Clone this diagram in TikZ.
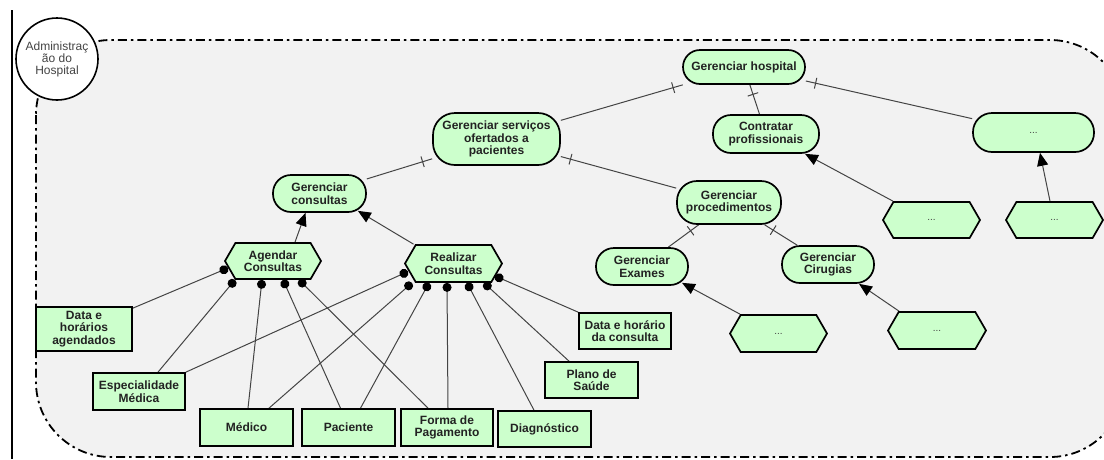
\documentclass[tikz,border=0pt]{standalone}
\usepackage{fontspec}
\setmainfont{Liberation Sans}
\usetikzlibrary{arrows.meta,shapes.symbols,decorations.markings}
\definecolor{nodefill}{HTML}{CCFFCC}
\definecolor{bgfill}{HTML}{F2F2F2}
\definecolor{linec}{HTML}{444444}
\definecolor{txt}{HTML}{222222}
\definecolor{graytxt}{HTML}{444444}
\pgfdeclarelayer{bg}
\pgfdeclarelayer{conn}
\pgfsetlayers{bg,conn,main}
\tikzset{
  base/.style={draw=black, line width=1.7pt, fill=nodefill, text=txt, inner sep=0pt,
    align=center, font=\bfseries\fontsize{12}{12.5}\selectfont},
  pill/.style={base, rectangle, rounded corners=#1},
  box/.style={base, rectangle},
  hexa/.style={base, signal, signal to=east and west, signal pointer angle=120},
  sz/.style 2 args={minimum width=#1pt, minimum height=#2pt},
  decomp/.style={draw=linec, line width=1pt, postaction={decorate},
    decoration={markings, mark=at position 10pt with {\draw[linec, line width=1pt] (0pt,-5.5pt) -- (0pt,5.5pt);}}},
  isa/.style={draw=linec, line width=1pt, -{Triangle[length=13pt,width=11pt,color=black]}},
  attr/.style={draw=linec, line width=1pt, -{Circle[length=9pt,width=9pt,color=black]}},
  container/.style={fill=bgfill, draw=black, line width=1.8pt,
    dash pattern=on 9pt off 4pt on 2.5pt off 4pt, rounded corners=75pt},
}
\newcommand\elide{{\mdseries\fontsize{10}{10}\selectfont\color{graytxt}...}}
\begin{document}
\begin{tikzpicture}[x=1pt,y=-1pt]
\useasboundingbox (0,0) rectangle (1104,459);
\begin{pgfonlayer}{bg}
  \path[container] (36,40) rectangle (1125,457);
  \node[circle, draw=black, line width=1.6pt, fill=white, minimum size=82pt, inner sep=0pt,
    align=center, text=graytxt, font=\fontsize{12}{12}\selectfont] (adm) at (57,59)
    {Administraç\\ão do\\Hospital};
  \draw[black, line width=1.2pt] (12,10) coordinate (lt) -- (12,459) coordinate (lb);
\end{pgfonlayer}

% stadium nodes
\node[pill=17pt, sz={122}{34}] (hosp) at (744,67) {Gerenciar hospital};
\node[pill=22pt, sz={127}{52}] (serv) at (496.5,139) {Gerenciar serviços\\ofertados a\\pacientes};
\node[pill=18pt, sz={106}{38}] (contr) at (766,134) {Contratar\\profissionais};
\node[pill=19pt, sz={121}{39}] (more) at (1033.5,132.5) {\elide};
\node[pill=18pt, sz={93}{37}] (gc) at (319.5,193.5) {Gerenciar\\consultas};
\node[pill=20pt, sz={104}{43}] (gp) at (729,202.5) {Gerenciar\\procedimentos};
\node[pill=18pt, sz={92}{37}] (ex) at (642,266.5) {Gerenciar\\Exames};
\node[pill=18pt, sz={92}{37}] (ci) at (828,264.5) {Gerenciar\\Cirugias};

% hexagons
\node[hexa, sz={97}{36}] (hx1) at (931.5,220) {\elide};
\node[hexa, sz={97}{36}] (hx2) at (1054.5,220) {\elide};
\node[hexa, sz={97}{37}] (hx3) at (778.5,333.5) {\elide};
\node[hexa, sz={98}{37}] (hx4) at (937,330.5) {\elide};
\node[hexa, sz={96}{36}] (ag) at (273,261) {Agendar\\Consultas};
\node[hexa, sz={97}{37}] (rz) at (453.5,263.5) {Realizar\\Consultas};

% rectangles
\node[box, sz={96}{44}] (dha) at (84,329) {Data e\\horários\\agendados};
\node[box, sz={92}{37}] (esp) at (139,391.5) {Especialidade\\Médica};
\node[box, sz={93}{37}] (med) at (246.5,427.5) {Médico};
\node[box, sz={93}{37}] (pac) at (348.5,427.5) {Paciente};
\node[box, sz={92}{37}] (fp) at (447,427.5) {Forma de\\Pagamento};
\node[box, sz={93}{36}] (dg) at (544.5,429) {Diagnóstico};
\node[box, sz={93}{36}] (pl) at (591.5,380) {Plano de\\Saúde};
\node[box, sz={92}{36}] (dc) at (625,331) {Data e horário\\da consulta};

\begin{pgfonlayer}{conn}
  % decompositions
  \draw[decomp] (hosp) -- (serv);
  \draw[decomp] (hosp) -- (contr);
  \draw[decomp] (hosp) -- (more);
  \draw[decomp] (serv) -- (gc);
  \draw[decomp] (serv) -- (gp);
  \draw[decomp] (gp) -- (ex);
  \draw[decomp] (gp) -- (ci);
  % specialisations
  \draw[isa] ([xshift=22pt]ag.north) -- ([xshift=-14pt]gc.south);
  \draw[isa] ([xshift=-40pt]rz.north) -- ([xshift=-9pt,yshift=2pt]gc.south east);
  \draw[isa] ([xshift=-38.5pt]hx1.north) -- ([xshift=39pt]contr.south);
  \draw[isa] ([xshift=-4.5pt]hx2.north) -- ([xshift=6.5pt]more.south);
  \draw[isa] ([xshift=-38.5pt]hx3.north) -- ([xshift=40pt,yshift=3pt]ex.south);
  \draw[isa] ([xshift=-38pt]hx4.north) -- ([xshift=31pt]ci.south);
  % attributes of Agendar
  \draw[attr] ([yshift=-2pt]dha.north east) -- ([xshift=4pt,yshift=-7pt]ag.west);
  \draw[attr] ([xshift=19pt]esp.north) -- ([xshift=-38pt]ag.south);
  \draw[attr] ([xshift=1.5pt]med.north) -- ([xshift=-11pt]ag.south);
  \draw[attr] ([xshift=-8pt]pac.north) -- ([xshift=10pt]ag.south);
  \draw[attr] ([xshift=-19pt]fp.north) -- ([xshift=26pt]ag.south);
  % attributes of Realizar
  \draw[attr] (esp.north east) -- ([xshift=4pt,yshift=-8pt]rz.west);
  \draw[attr] ([xshift=22.5pt]med.north) -- ([xshift=-41.5pt]rz.south);
  \draw[attr] ([xshift=12pt]pac.north) -- ([xshift=-24.5pt]rz.south);
  \draw[attr] ([xshift=1pt]fp.north) -- ([xshift=-6.5pt]rz.south);
  \draw[attr] ([xshift=-10.5pt]dg.north) -- ([xshift=13.5pt]rz.south);
  \draw[attr] ([xshift=-22.5pt]pl.north) -- ([xshift=30.5pt]rz.south);
  \draw[attr] (dc.north west) -- ([xshift=-8pt,yshift=-12.5pt]rz.east);
\end{pgfonlayer}
\end{tikzpicture}
\end{document}
